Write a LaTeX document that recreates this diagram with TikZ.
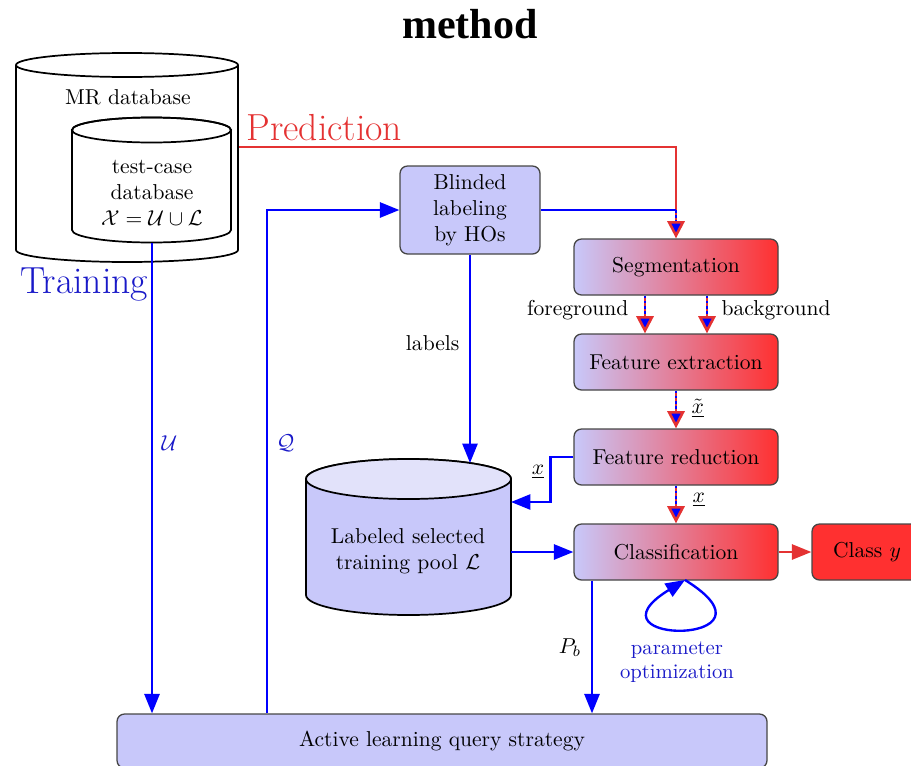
\documentclass[tikz,border=0pt]{standalone}
\usepackage{fontspec}
\newfontfamily\titlefont{Liberation Serif}
\usetikzlibrary{arrows.meta}
\newcommand\pxu{0.464pt}
\definecolor{boxblue}{RGB}{200,200,250}
\definecolor{topblue}{RGB}{226,226,250}
\definecolor{predred}{RGB}{228,50,50}
\definecolor{gradred}{RGB}{255,48,48}
\definecolor{bordergray}{RGB}{70,70,70}
\definecolor{txtblue}{RGB}{25,25,200}
\begin{document}
\begin{tikzpicture}[x=\pxu,y=-\pxu,
  cyl/.style={draw=black,line width=0.8pt},
  proc/.style={draw=bordergray,line width=0.6pt,rounded corners=3.5pt,minimum width=204*\pxu,minimum height=56*\pxu,left color=boxblue,right color=gradred,inner sep=0pt},
  lbox/.style={draw=bordergray,line width=0.6pt,rounded corners=3.5pt,fill=boxblue,inner sep=0pt},
  bluearr/.style={draw=blue,line width=1.1pt,-{Triangle[length=9pt,width=7pt]}},
  blueline/.style={draw=blue,line width=1.1pt},
  predarrow/.style={draw=predred,line width=1.2pt,-{Triangle[length=8pt,width=8pt,fill=blue]}},
  dotover/.style={draw=blue,line width=1.1pt,dash pattern=on 1.2pt off 1.2pt,shorten >=8pt},
  redarr/.style={draw=predred,line width=1.1pt,-{Triangle[length=9pt,width=7pt]}},
  biglabel/.style={font=\fontsize{17.5}{21}\selectfont,inner sep=0pt}
]
\useasboundingbox (0,0) rectangle (911,766);

% title
\node[font=\titlefont\bfseries\fontsize{19.5}{23}\selectfont] (title) at (470,24) {method};

% outer cylinder (MR database)
\draw[cyl] (16,65) -- (16,250) arc[start angle=180,end angle=360,x radius=111*\pxu,y radius=12*\pxu] -- (238,65);
\draw[cyl] (127,65) ellipse[x radius=111*\pxu,y radius=12*\pxu];
\node (mrdb) at (128,97) {MR database};

% inner cylinder (test-case database)
\draw[cyl,fill=white] (72,130) -- (72,230) arc[start angle=180,end angle=360,x radius=79.5*\pxu,y radius=12.5*\pxu] -- (231,130) arc[start angle=0,end angle=180,x radius=79.5*\pxu,y radius=12.5*\pxu] -- cycle;
\draw[cyl] (151.5,130) ellipse[x radius=79.5*\pxu,y radius=12.5*\pxu];
\node[align=center] (tcdb) at (152,193) {test-case\\database\\$\mathcal{X}=\mathcal{U}\cup\mathcal{L}$};

% labeled training pool cylinder
\draw[cyl,fill=boxblue] (306,479) -- (306,595) arc[start angle=180,end angle=360,x radius=102.5*\pxu,y radius=20*\pxu] -- (511,479) arc[start angle=0,end angle=180,x radius=102.5*\pxu,y radius=20*\pxu] -- cycle;
\draw[cyl,fill=topblue] (408.5,479) ellipse[x radius=102.5*\pxu,y radius=20*\pxu];
\node[align=center] (pool) at (408,551) {Labeled selected\\training pool $\mathcal{L}$};

% named coordinates on cylinders
\coordinate (tcbot) at (152,243);
\coordinate (mrright) at (239,147);
\coordinate (pooltop) at (470,463);
\coordinate (poolx) at (511,502);
\coordinate (poolr) at (511,552);
\coordinate (qx) at (267,0);
\coordinate (pbx) at (592,0);
\coordinate (lp) at (685,580);

% boxes
\node[lbox,minimum width=140*\pxu,minimum height=88*\pxu,align=center] (blind) at (470,210) {Blinded\\labeling\\by HOs};
\node[proc] (seg) at (676,267) {Segmentation};
\node[proc] (fe) at (676,362) {Feature extraction};
\node[proc] (fr) at (676,457) {Feature reduction};
\node[proc] (cl) at (676,552) {Classification};
\node[draw=bordergray,line width=0.6pt,rounded corners=3.5pt,fill=gradred,minimum width=110*\pxu,minimum height=56*\pxu] (cy) at (867,552) {Class $y$};
\node[lbox,minimum width=650*\pxu,minimum height=54*\pxu] (al) at (442,741) {Active learning query strategy};

% big labels
\node[biglabel,anchor=base west,text=predred] (pred) at (246,140) {Prediction};
\node[biglabel,anchor=base west,text=txtblue] (train) at (20,293) {Training};

% Prediction path
\draw[predarrow] (mrright) -| (seg.north);
\coordinate (bj) at (blind.east -| seg.north);
\draw[blueline] (blind.east) -- (bj);
\draw[dotover] (bj) -- (seg.north);

% Training U
\draw[bluearr] (tcbot) -- (tcbot |- al.north);
\node[anchor=west,text=txtblue] (ulab) at (154,443) {$\mathcal{U}$};

% Query Q
\draw[bluearr] (qx |- al.north) |- (blind.west);
\node[anchor=west,text=txtblue] (qlab) at (269,443) {$\mathcal{Q}$};

% labels
\draw[bluearr] (blind.south) -- (pooltop);
\node[anchor=east] (lablab) at (467,343) {labels};

% segmentation -> feature extraction
\draw[predarrow] ([xshift=-31*\pxu]seg.south) -- ([xshift=-31*\pxu]fe.north);
\draw[dotover] ([xshift=-31*\pxu]seg.south) -- ([xshift=-31*\pxu]fe.north);
\draw[predarrow] ([xshift=31*\pxu]seg.south) -- ([xshift=31*\pxu]fe.north);
\draw[dotover] ([xshift=31*\pxu]seg.south) -- ([xshift=31*\pxu]fe.north);
\node[anchor=east] (fgl) at (636,310) {foreground};
\node[anchor=west] (bgl) at (714,310) {background};

% feature extraction -> feature reduction
\draw[predarrow] (fe.south) -- (fr.north);
\draw[dotover] (fe.south) -- (fr.north);
\node[anchor=west] (xtl) at (684,408) {$\underline{\tilde{x}}$};

% feature reduction -> pool
\draw[bluearr] (fr.west) -- ++(-23,0) |- (poolx);
\node (xl1) at (538,472) {$\underline{x}$};

% feature reduction -> classification
\draw[predarrow] (fr.south) -- (cl.north);
\draw[dotover] (fr.south) -- (cl.north);
\node[anchor=west] (xl2) at (685,500) {$\underline{x}$};

% pool -> classification
\draw[bluearr] (poolr) -- (poolr -| cl.west);

% classification -> class y
\draw[redarr] (cl.east) -- (cy.west);

% classification -> active learning
\draw[bluearr] (pbx |- cl.south) -- (pbx |- al.north);
\node[anchor=east] (pbl) at (589,648) {$P_b$};

% parameter optimization loop
\draw[bluearr] (lp) .. controls (792,646) and (578,646) .. (lp);
\node[align=center,text=txtblue,font=\fontsize{9.6}{10.8}\selectfont] (popt) at (677,662) {parameter\\optimization};

\end{tikzpicture}
\end{document}
